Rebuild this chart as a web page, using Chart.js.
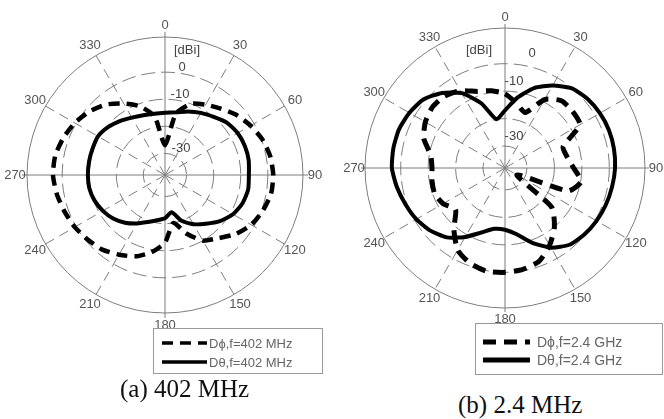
<!DOCTYPE html>
<html>
<head>
<meta charset="utf-8">
<script src="https://cdn.jsdelivr.net/npm/chart.js@4.4.1/dist/chart.umd.min.js"></script>
<style>
  body { margin: 0; background: #fff; width: 664px; height: 419px; position: relative; overflow: hidden; }
  canvas { position: absolute; top: 0; }
  #chartA { left: 0; }
  #chartB { left: 332px; }
  .cap { position: absolute; font-family: "Liberation Serif", "Times New Roman", serif; font-size: 25px; line-height: 25px; color: #111; white-space: nowrap; }
</style>
</head>
<body>
<canvas id="chartA" width="332" height="380"></canvas>
<canvas id="chartB" width="332" height="380"></canvas>
<div class="cap" style="left:120px;top:376px">(a) 402 MHz</div>
<div class="cap" style="left:458px;top:392px">(b) 2.4 MHz</div>

<script>
// angle categories, every 10 degrees, clockwise from top
const angles = ['0','10','20','30','40','50','60','70','80','90','100','110','120','130','140','150','160','170',
                '180','190','200','210','220','230','240','250','260','270','280','290','300','310','320','330','340','350'];
const shownAngles = ['0','30','60','90','120','150','180','210','240','270','300','330'];

// radial scale (dBi)
const rMin = -38;
const rMax = 13;
const ringValues = [-30, -20, -10, 0];
const ringLabels = ['-30', '-10', '0'];
const ringLabelValues = [-30, -10, 0];

// (a) 402 MHz
const phi402 = [-27, -15, -10, -8, -6, -3.5, -1.5, 0.3, 1.5, 2, 1.8, 0.5, -1.2, -4, -7.5, -10, -15, -20,
                -13, -9, -6, -4, -2, -0.8, 0.5, 1.5, 2.6, 3.4, 3.2, 2, 0.5, -1.5, -4, -7.5, -11, -16];
const theta402 = [-15, -14.5, -13, -11.5, -10, -8, -7, -6.6, -6.6, -7, -6.8, -7.5, -9, -11.5, -14.5, -17, -20, -24,
                  -22, -21, -19.5, -17.3, -15, -13, -11.5, -10.3, -9.6, -9.5, -9.5, -9.5, -9.4, -10.5, -12, -13.5, -14.5, -15];

// (b) 2.4 GHz
const phi24 = [-11, -14, -16.5, -9.2, -6, -5.9, -6.5, -15.5, -15, -13, -9.8, -13.5, -33, -15.8, -10, -5.5, -1.8, -0.5,
               0, 0.2, -1, -3.5, -9, -14.5, -12, -10.7, -11, -11.4, -10.5, -6.5, -4.5, -3.5, -3.8, -5.5, -8.3, -9.4];
const theta24 = [-17, -12, -7, -3.3, -0.1, 1.2, 1.9, 2.3, 2.3, 2.1, 1.6, 1.1, 0.5, -0.3, -1.5, -4.5, -9, -13.5,
                 -15.5, -15.5, -13, -9, -5, -2.5, -0.7, 0.6, 2, 3.2, 3.3, 3.1, 2.2, 0.8, -2.3, -6.5, -13, -20];

const gridGrey = '#7d7d7d';
const textGrey = '#555';

// draws axis extensions, angle labels, dB labels and the boxed legend
const polarDecor = {
  id: 'polarDecor',
  beforeDatasetsDraw(chart, args, o) {
    // the 0/90/180/270 axes poke a little past the outer circle
    const s = chart.scales.r;
    const ctx = chart.ctx;
    ctx.save();
    ctx.strokeStyle = gridGrey;
    ctx.lineWidth = 1;
    chart.data.labels.forEach((lab, i) => {
      if (i % 9 !== 0) return;
      const a = s.getPointPosition(i, s.drawingArea);
      const b = s.getPointPosition(i, s.drawingArea + o.axisExt);
      ctx.beginPath();
      ctx.moveTo(a.x, a.y);
      ctx.lineTo(b.x, b.y);
      ctx.stroke();
    });
    ctx.restore();
  },
  afterDraw(chart, args, o) {
    const s = chart.scales.r;
    const ctx = chart.ctx;
    ctx.save();
    ctx.fillStyle = textGrey;
    ctx.font = '13px "Liberation Sans", Arial, sans-serif';
    ctx.textAlign = 'center';
    ctx.textBaseline = 'middle';
    chart.data.labels.forEach((lab, i) => {
      if (!shownAngles.includes(lab)) return;
      const p = s.getPointPosition(i, s.drawingArea + o.labelGap);
      ctx.fillText(lab, p.x, p.y);
    });

    // dB ring labels
    ctx.fillStyle = '#444';
    ringLabelValues.forEach((v, i) => {
      const d = s.getDistanceFromCenterForValue(v);
      const off = o.ringLabelDx[i];
      ctx.fillText(ringLabels[i], s.xCenter + off, s.yCenter - d - o.ringLabelLift);
    });
    ctx.fillText('[dBi]', s.xCenter + o.unitPos[0], s.yCenter + o.unitPos[1]);

    // legend
    const L = o.legend;
    ctx.strokeStyle = '#999';
    ctx.lineWidth = 1;
    ctx.setLineDash([]);
    ctx.strokeRect(L.x + 0.5, L.y + 0.5, L.w, L.h);
    ctx.textAlign = 'left';
    ctx.font = L.font;
    ctx.fillStyle = '#666';
    chart.data.datasets.forEach((ds, i) => {
      const y = L.rowY[i];
      ctx.strokeStyle = '#000';
      ctx.lineWidth = L.lineW;
      ctx.setLineDash(ds.borderDash || []);
      ctx.beginPath();
      ctx.moveTo(L.sx, y);
      ctx.lineTo(L.sx + L.sw, y);
      ctx.stroke();
      ctx.fillText(ds.label, L.tx, y + 1);
    });
    ctx.restore();
  }
};

function makePolar(id, phi, theta, phiLabel, thetaLabel, padding, decor, widths, dash) {
  new Chart(document.getElementById(id), {
    type: 'radar',
    data: {
      labels: angles,
      datasets: [
        { label: phiLabel, data: phi, borderColor: '#000', borderWidth: widths[0], borderDash: dash, fill: false, pointRadius: 0, tension: 0.2 },
        { label: thetaLabel, data: theta, borderColor: '#000', borderWidth: widths[1], fill: false, pointRadius: 0, tension: 0.2 }
      ]
    },
    options: {
      responsive: false,
      animation: false,
      layout: { padding: padding },
      plugins: { legend: { display: false }, tooltip: { enabled: false }, polarDecor: decor },
      scales: {
        r: {
          min: rMin,
          max: rMax,
          afterBuildTicks: (scale) => {
            scale.ticks = ringValues.concat([rMax]).map(v => ({ value: v }));
          },
          ticks: { display: false },
          pointLabels: { display: false },
          grid: { circular: true, color: gridGrey, lineWidth: 1 },
          border: { dash: (c) => (c.tick && c.tick.value === rMax ? [] : [14, 6]) },
          angleLines: {
            color: gridGrey,
            lineWidth: (c) => (c.index % 3 === 0 ? 1 : 0),
            borderDash: (c) => (c.index % 9 === 0 ? [] : [10, 6])
          }
        }
      }
    },
    plugins: [polarDecor]
  });
}

makePolar('chartA', phi402, theta402, 'D\u03D5,f=402 MHz', 'D\u03B8,f=402 MHz',
  { left: 27, right: 29, top: 37, bottom: 67 },
  {
    labelGap: 12, axisExt: 5, ringLabelDx: [16, 15, 17], ringLabelLift: 5, unitPos: [22, -125],
    legend: { x: 153, y: 328, w: 169, h: 45, rowY: [343, 362], sx: 162, sw: 45, tx: 209, lineW: 3.5, font: '13px "Liberation Sans", Arial, sans-serif' }
  }, [4.5, 4], [11, 7]);

makePolar('chartB', phi24, theta24, 'D\u03D5,f=2.4 GHz', 'D\u03B8,f=2.4 GHz',
  { left: 33, right: 19, top: 28, bottom: 72 },
  {
    labelGap: 11, axisExt: 4, ringLabelDx: [9, 9, 27], ringLabelLift: 10, unitPos: [-26, -118],
    legend: { x: 143, y: 323, w: 187, h: 51, rowY: [342, 360], sx: 151, sw: 47, tx: 205, lineW: 5, font: '14px "Liberation Sans", Arial, sans-serif' }
  }, [5, 4], [13, 8]);
</script>
</body>
</html>
